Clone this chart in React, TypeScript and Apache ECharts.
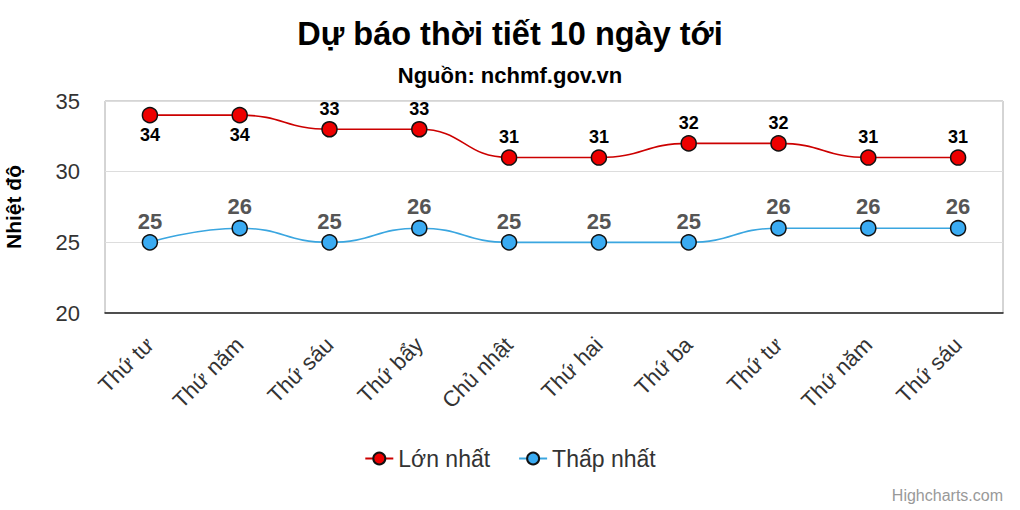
import React, { useEffect, useRef } from "react";
import * as echarts from "echarts";

const categories = ["Thứ tư", "Thứ năm", "Thứ sáu", "Thứ bẩy", "Chủ nhật", "Thứ hai", "Thứ ba", "Thứ tư", "Thứ năm", "Thứ sáu"];
const maxTemps = [34, 34, 33, 33, 31, 31, 32, 32, 31, 31];
const minTemps = [25, 26, 25, 26, 25, 25, 25, 26, 26, 26];
const maxLabelBelow = [true, true, false, false, false, false, false, false, false, false];
const yTicks = { min: 20, max: 35, interval: 5 };

const FONT = "Liberation Sans, Arial, sans-serif";

export default function App() {
  const ref = useRef<HTMLDivElement>(null);
  useEffect(() => {
    if (!ref.current) return;
    const chart = echarts.init(ref.current, undefined, { renderer: "svg" });
    chart.setOption({
      animation: false,
      backgroundColor: "#ffffff",
      textStyle: { fontFamily: FONT },
      title: {
        text: "Dự báo thời tiết 10 ngày tới",
        subtext: "Nguồn: nchmf.gov.vn",
        left: "center",
        top: 12,
        itemGap: 14,
        textStyle: { fontFamily: FONT, fontSize: 32.5, fontWeight: "bold", color: "#000" },
        subtextStyle: { fontFamily: FONT, fontSize: 22, fontWeight: "bold", color: "#000" },
      },
      legend: {
        bottom: 35,
        left: "center",
        itemGap: 28,
        itemWidth: 28,
        itemHeight: 15,
        textStyle: { fontFamily: FONT, fontSize: 23, color: "#333" },
        data: ["Lớn nhất", "Thấp nhất"],
      },
      graphic: [
        {
          type: "text",
          right: 17,
          bottom: 7,
          style: { text: "Highcharts.com", fontFamily: FONT, fontSize: 16, fill: "#999" },
        },
      ],
      grid: {
        left: 105,
        right: 17,
        top: 101,
        bottom: 197,
        show: true,
        borderColor: "#aaaaaa",
        borderWidth: 1,
        outerBoundsMode: "none",
        containLabel: false,
      },
      xAxis: {
        type: "category",
        data: categories,
        boundaryGap: true,
        axisLine: { show: true, lineStyle: { color: "#222", width: 1.5 } },
        axisTick: { show: false },
        axisLabel: {
          rotate: 45,
          fontFamily: FONT,
          fontSize: 22,
          color: "#333",
          margin: 28,
          interval: 0,
        },
      },
      yAxis: {
        type: "value",
        min: yTicks.min,
        max: yTicks.max,
        interval: yTicks.interval,
        name: "Nhiệt độ",
        nameLocation: "middle",
        nameGap: 81,
        nameTextStyle: { fontFamily: FONT, fontSize: 21, fontWeight: "bold", color: "#000" },
        axisLine: { show: false },
        axisTick: { show: false },
        splitLine: { lineStyle: { color: "#dddddd", width: 1 } },
        axisLabel: { fontFamily: FONT, fontSize: 22, color: "#333", margin: 25 },
      },
      series: [
        {
          name: "Lớn nhất",
          type: "line",
          smooth: 0.5,
          smoothMonotone: "x",
          data: maxTemps.map((v, i) => ({
            value: v,
            label: { position: maxLabelBelow[i] ? "bottom" : "top" },
          })),
          symbol: "circle",
          symbolSize: 15,
          lineStyle: { color: "#cc0000", width: 1.6 },
          itemStyle: { color: "#ee0000", borderColor: "#111", borderWidth: 1.5 },
          label: {
            show: true,
            fontFamily: FONT,
            fontSize: 18,
            fontWeight: "bold",
            color: "#000",
            distance: 3,
          },
          z: 3,
        },
        {
          name: "Thấp nhất",
          type: "line",
          smooth: 0.5,
          smoothMonotone: "x",
          data: minTemps,
          symbol: "circle",
          symbolSize: 15,
          lineStyle: { color: "#3aa6e0", width: 1.6 },
          itemStyle: { color: "#3aabf2", borderColor: "#111", borderWidth: 1.5 },
          label: {
            show: true,
            position: "top",
            fontFamily: FONT,
            fontSize: 22,
            fontWeight: "bold",
            color: "#555",
            distance: 2,
          },
          z: 2,
        },
      ],
    });
    return () => chart.dispose();
  }, []);
  return (
    <div
      ref={ref}
      style={{ position: "fixed", left: 0, top: 0, width: 1020, height: 510 }}
    />
  );
}
